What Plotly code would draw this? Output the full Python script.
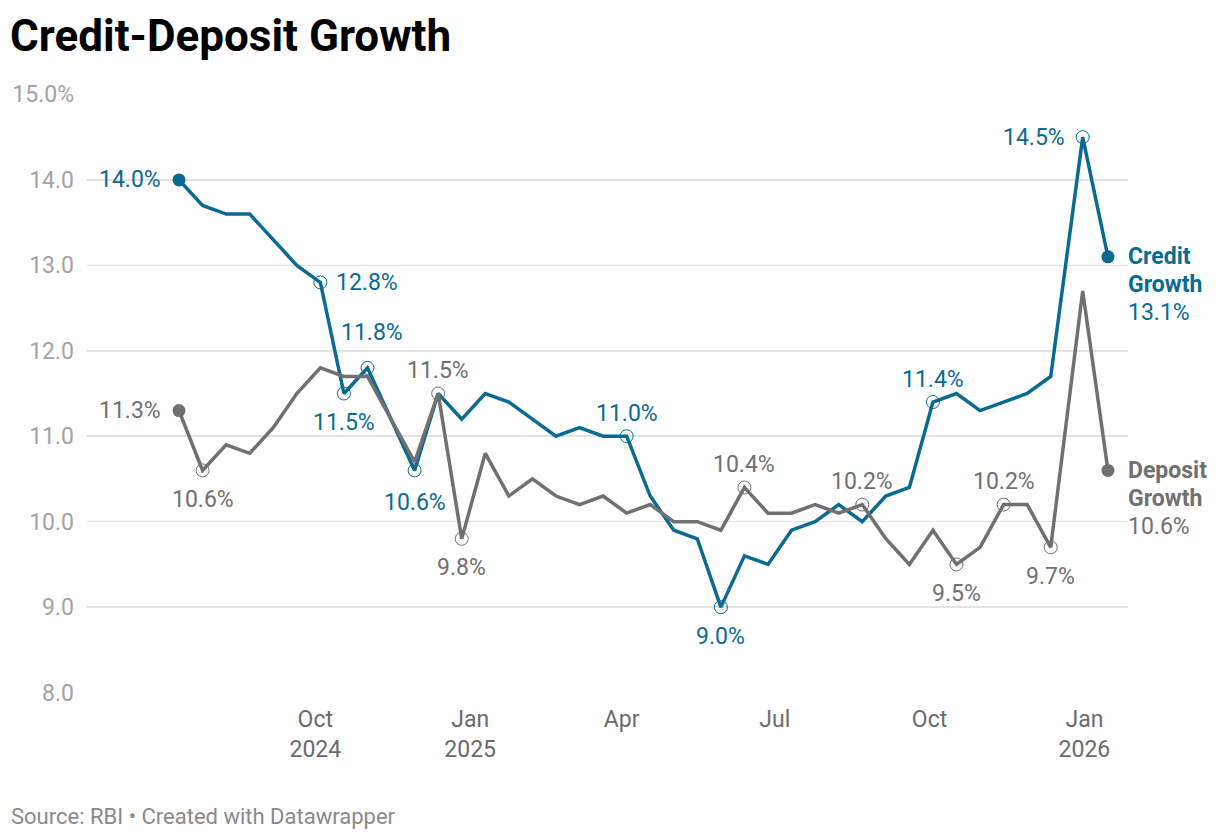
import plotly.graph_objects as go

dates = ["2024-07-12","2024-07-26","2024-08-09","2024-08-23","2024-09-06","2024-09-20",
         "2024-10-04","2024-10-18","2024-11-01","2024-11-15","2024-11-29","2024-12-13",
         "2024-12-27","2025-01-10","2025-01-24","2025-02-07","2025-02-21","2025-03-07",
         "2025-03-21","2025-04-04","2025-04-18","2025-05-02","2025-05-16","2025-05-30",
         "2025-06-13","2025-06-27","2025-07-11","2025-07-25","2025-08-08","2025-08-22",
         "2025-09-05","2025-09-19","2025-10-03","2025-10-17","2025-10-31","2025-11-14",
         "2025-11-28","2025-12-12","2025-12-31","2026-01-15"]

credit = [14.0,13.7,13.6,13.6,13.3,13.0,12.8,11.5,11.8,11.2,10.6,11.5,11.2,11.5,11.4,11.2,
          11.0,11.1,11.0,11.0,10.3,9.9,9.8,9.0,9.6,9.5,9.9,10.0,10.2,10.0,10.3,10.4,11.4,
          11.5,11.3,11.4,11.5,11.7,14.5,13.1]

deposit = [11.3,10.6,10.9,10.8,11.1,11.5,11.8,11.7,11.7,11.2,10.7,11.5,9.8,10.8,10.3,10.5,
           10.3,10.2,10.3,10.1,10.2,10.0,10.0,9.9,10.4,10.1,10.1,10.2,10.1,10.2,9.8,9.5,9.9,
           9.5,9.7,10.2,10.2,9.7,12.7,10.6]

# labelled points: (index, placement)
credit_labels = [(0, "left"), (6, "right"), (7, "below"), (8, "above2"), (10, "below2"),
                 (19, "above"), (23, "below"), (32, "above"), (38, "left")]
deposit_labels = [(0, "left"), (1, "below"), (11, "above"), (12, "below"), (24, "above"),
                  (29, "above"), (33, "below"), (35, "above"), (37, "below")]

x_tickvals = ["2024-10-01","2025-01-01","2025-04-01","2025-07-01","2025-10-01","2026-01-01"]
x_ticktext = ["Oct<br>2024","Jan<br>2025","Apr","Jul","Oct","Jan<br>2026"]
y_tickvals = [8, 9, 10, 11, 12, 13, 14, 15]
y_ticktext = ["8.0","9.0","10.0","11.0","12.0","13.0","14.0","15.0%"]

BLUE = "#0a6a91"
GRAY = "#707070"
FONT = "Roboto"
LBL = 23
TICK = 23

fig = go.Figure()

series = [("Credit Growth", credit, credit_labels, BLUE),
          ("Deposit Growth", deposit, deposit_labels, GRAY)]

for name, vals, labels, col in series:
    fig.add_trace(go.Scatter(x=dates, y=vals, mode="lines", name=name,
                             line=dict(color=col, width=3.5), hoverinfo="skip"))
    open_idx = [i for i, _ in labels if i != 0]
    fig.add_trace(go.Scatter(x=[dates[i] for i in open_idx], y=[vals[i] for i in open_idx],
                             mode="markers",
                             marker=dict(symbol="circle-open", size=13, color=col,
                                         line=dict(color=col, width=1)),
                             hoverinfo="skip"))
    fig.add_trace(go.Scatter(x=[dates[0], dates[-1]], y=[vals[0], vals[-1]], mode="markers",
                             marker=dict(symbol="circle", size=13, color=col),
                             hoverinfo="skip"))

annotations = []
for name, vals, labels, col in series:
    for i, pos in labels:
        txt = f"{vals[i]:.1f}%"
        a = dict(x=dates[i], y=vals[i], text=txt, showarrow=False,
                 font=dict(family=FONT, size=LBL, color=col))
        if pos == "left":
            a.update(xanchor="right", yanchor="middle", xshift=-16)
        elif pos == "right":
            a.update(xanchor="left", yanchor="middle", xshift=14)
        elif pos == "above":
            a.update(xanchor="center", yanchor="middle", yshift=23)
        elif pos == "above2":
            a.update(xanchor="center", yanchor="middle", yshift=35, xshift=5)
        elif pos == "below":
            a.update(xanchor="center", yanchor="middle", yshift=-29)
        elif pos == "below2":
            a.update(xanchor="center", yanchor="middle", yshift=-32)
        annotations.append(a)
    # end labels, one line each
    first, second = name.split(" ")
    for k, line in enumerate([f"<b>{first}</b>", f"<b>{second}</b>", f"{vals[-1]:.1f}%"]):
        annotations.append(dict(x=dates[-1], y=vals[-1], text=line,
                                showarrow=False, xanchor="left", yanchor="middle",
                                xshift=18, yshift=-28 * k,
                                font=dict(family=FONT, size=LBL, color=col)))

PL, PR, PT, PB = 87, 92, 94, 147
pw = 1220 - PL - PR
ph = 840 - PT - PB
annotations.append(dict(xref="paper", yref="paper", x=(8 - PL) / pw, y=(PT - 36) / ph + 1,
                        text="<b>Credit-Deposit Growth</b>", showarrow=False,
                        xanchor="left", yanchor="middle",
                        font=dict(family=FONT, size=44, color="#000000")))
annotations.append(dict(xref="paper", yref="paper", x=(9 - PL) / pw, y=-(816 - (840 - PB)) / ph,
                        text="Source: RBI • Created with Datawrapper", showarrow=False,
                        xanchor="left", yanchor="middle",
                        font=dict(family=FONT, size=22, color="#8a8a8a")))

fig.update_layout(
    width=1220, height=840,
    margin=dict(l=PL, r=PR, t=PT, b=PB),
    paper_bgcolor="white", plot_bgcolor="white",
    showlegend=False,
    font=dict(family=FONT),
    annotations=annotations,
    xaxis=dict(type="date", range=["2024-05-18 08:00", "2026-01-26 22:00"],
               tickvals=x_tickvals, ticktext=x_ticktext, showgrid=False, zeroline=False,
               showline=False, ticks="", tickfont=dict(family=FONT, size=TICK, color="#6b6b6b"),
               ticklabelstandoff=10),
    yaxis=dict(range=[7.995, 15.005], tickvals=y_tickvals, ticktext=y_ticktext,
               showgrid=True, gridcolor="#e3e3e3", gridwidth=1.6, zeroline=False,
               showline=False, ticks="", tickfont=dict(family=FONT, size=TICK, color="#a3a3a3"),
               ticklabelstandoff=12),
)

fig.write_html("out.html", config={"displayModeBar": False, "staticPlot": True})
with open("out.html", "r", encoding="utf-8") as f:
    html = f.read()
html = html.replace("<body>", "<body style=\"margin:0;padding:0;overflow:hidden\">", 1)
with open("out.html", "w", encoding="utf-8") as f:
    f.write(html)
